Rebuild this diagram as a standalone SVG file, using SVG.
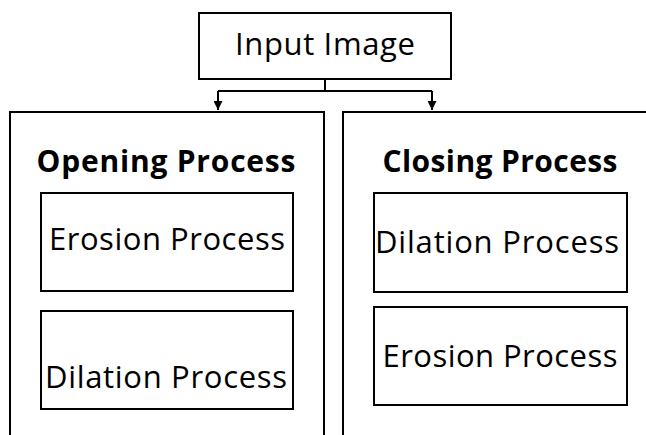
<svg xmlns="http://www.w3.org/2000/svg" width="646" height="435" viewBox="0 0 646 435">
  <defs>
    <marker id="arrow" viewBox="0 0 10 10" refX="10" refY="5" markerWidth="9" markerHeight="9" markerUnits="userSpaceOnUse" orient="auto">
      <path d="M0,0 L10,5 L0,10 z" fill="#000"/>
    </marker>
  </defs>
  <style>
    .box { fill: #fff; stroke: #000; stroke-width: 2; }
    .frame { fill: none; stroke: #000; stroke-width: 2; }
    .wire { fill: none; stroke: #000; stroke-width: 2; }
    .lbl { font-family: "Open Sans", "Noto Sans", sans-serif; font-size: 31px; fill: #000; text-anchor: middle; }
    .ttl { font-family: "Open Sans", "Noto Sans", sans-serif; font-size: 30px; font-weight: bold; fill: #000; text-anchor: middle; }
  </style>
  <rect width="646" height="435" fill="#fff"/>

  <g id="connectors">
    <path class="wire" d="M325,79 V91"/>
    <path class="wire" d="M218,91 H432"/>
    <path class="wire" d="M218,91 V110" marker-end="url(#arrow)"/>
    <path class="wire" d="M432,91 V110" marker-end="url(#arrow)"/>
  </g>

  <g id="input-image">
    <rect class="box" x="199" y="13" width="252" height="66"/>
    <text class="lbl" x="325" y="55" textLength="180">Input Image</text>
  </g>

  <g id="opening-process">
    <path class="frame" d="M10,435 V112 H324 V435"/>
    <text class="ttl" x="166" y="172" textLength="259">Opening Process</text>
  </g>
  <g id="opening-erosion">
    <rect class="box" x="41" y="193" width="252" height="98"/>
    <text class="lbl" x="167" y="250" textLength="236">Erosion Process</text>
  </g>
  <g id="opening-dilation">
    <rect class="box" x="41" y="311" width="252" height="98"/>
    <text class="lbl" x="166" y="388" textLength="242">Dilation Process</text>
  </g>

  <g id="closing-process">
    <path class="frame" d="M343,435 V112 H650"/>
    <text class="ttl" x="500" y="172" textLength="235">Closing Process</text>
  </g>
  <g id="closing-dilation">
    <rect class="box" x="374" y="193" width="253" height="99"/>
    <text class="lbl" x="497" y="253" textLength="244">Dilation Process</text>
  </g>
  <g id="closing-erosion">
    <rect class="box" x="374" y="307" width="253" height="98"/>
    <text class="lbl" x="500" y="367" textLength="235">Erosion Process</text>
  </g>
</svg>
